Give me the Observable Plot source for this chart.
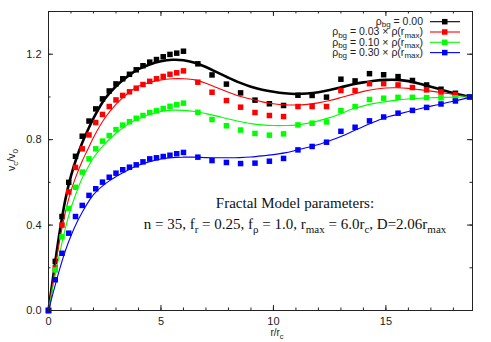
<!DOCTYPE html>
<html><head><meta charset="utf-8">
<script src="https://cdn.jsdelivr.net/npm/d3@7"></script>
<script src="https://cdn.jsdelivr.net/npm/@observablehq/plot@0.6"></script>
<style>body{margin:0;background:#fff}</style>
</head><body><div id="chart"></div>
<script>
// sampled radii of the data points (r / r_c)
const r = [0,0.3,0.6,0.9,1.2,1.5,1.8,2.1,2.4,2.7,3.0,3.3,3.6,3.9,4.2,4.5,4.8,5.1,5.4,5.7,6.0,
  6.64,7.27,7.91,8.54,9.18,9.82,10.45,11.09,11.72,12.36,13.0,13.63,14.27,14.9,15.54,16.18,16.81,17.45,18.09,18.72];
const blackPts = [0,0.23,0.44,0.60,0.722,0.816,0.887,0.944,0.991,1.028,1.061,1.085,1.106,1.127,1.146,1.163,1.175,1.188,1.199,1.205,1.214,
  1.155,1.103,1.06,1.019,0.985,0.968,0.960,1.008,1.007,0.999,1.083,1.075,1.109,1.104,1.095,1.077,1.056,1.036,1.017,1.0];
const redPts = [0,0.20,0.40,0.555,0.67,0.757,0.822,0.88,0.918,0.955,0.986,1.007,1.024,1.041,1.058,1.073,1.085,1.096,1.106,1.113,1.122,
  1.069,1.022,0.983,0.952,0.927,0.913,0.908,0.955,0.955,0.955,1.03,1.03,1.062,1.062,1.056,1.044,1.033,1.023,1.01,1.0];
const greenPts = [0,0.19,0.345,0.478,0.577,0.648,0.71,0.757,0.793,0.819,0.847,0.868,0.884,0.9,0.913,0.927,0.935,0.946,0.956,0.964,0.971,
  0.928,0.894,0.865,0.845,0.829,0.821,0.827,0.869,0.877,0.883,0.936,0.955,0.988,0.994,0.998,0.998,0.997,0.996,0.996,1.0];
const bluePts = [0,0.144,0.268,0.362,0.44,0.492,0.539,0.57,0.601,0.624,0.643,0.659,0.671,0.682,0.696,0.71,0.715,0.721,0.727,0.734,0.74,
  0.718,0.702,0.693,0.688,0.69,0.699,0.712,0.752,0.768,0.788,0.839,0.858,0.888,0.906,0.924,0.937,0.951,0.967,0.981,1.0];

// model curves, read at these radii
const rModel = [0,0.25,0.5,0.75,1,1.25,1.5,1.75,2,2.5,3,3.5,4,4.5,5,5.5,6,6.5,7,7.5,8,8.5,9,9.5,10,10.5,11,11.5,12,12.5,13,13.5,14,14.5,15,15.5,16,16.5,17,17.5,18,18.5,18.72];
const blackModel = [0,0.19,0.37,0.52,0.63,0.715,0.785,0.845,0.90,0.99,1.05,1.095,1.13,1.152,1.167,1.174,1.172,1.16,1.14,1.115,1.09,1.067,1.048,1.034,1.024,1.017,1.014,1.016,1.022,1.032,1.045,1.058,1.068,1.076,1.08,1.08,1.074,1.062,1.048,1.033,1.018,1.006,1.0];
const redModel = [0,0.17,0.33,0.46,0.56,0.635,0.70,0.755,0.81,0.90,0.965,1.015,1.05,1.068,1.08,1.085,1.085,1.08,1.064,1.043,1.022,1.003,0.99,0.977,0.968,0.963,0.962,0.965,0.972,0.983,0.997,1.012,1.026,1.036,1.042,1.043,1.04,1.034,1.027,1.02,1.012,1.004,1.0];
const greenModel = [0,0.14,0.27,0.385,0.48,0.555,0.62,0.67,0.715,0.78,0.83,0.87,0.898,0.918,0.932,0.938,0.937,0.932,0.922,0.91,0.897,0.885,0.875,0.869,0.866,0.866,0.868,0.876,0.888,0.903,0.922,0.943,0.958,0.97,0.978,0.985,0.99,0.994,0.996,0.998,0.999,1.0,1.0];
const blueModel = [0,0.10,0.195,0.28,0.35,0.41,0.46,0.505,0.543,0.592,0.627,0.656,0.68,0.697,0.709,0.716,0.718,0.718,0.716,0.715,0.715,0.716,0.719,0.724,0.73,0.738,0.75,0.763,0.777,0.795,0.815,0.838,0.862,0.884,0.904,0.918,0.932,0.945,0.957,0.968,0.98,0.992,1.0];

const bgValues = ["0.00", "0.03", "0.10", "0.30"];
const colors = ["#000000", "#ff0000", "#00ff00", "#0000ff"];
const xTicks = [0, 5, 10, 15];
const yTicks = [0.0, 0.4, 0.8, 1.2];
const xMinor = d3.range(0, 19);
const yMinor = d3.range(0, 8).map(i => i * 0.2);

const pts = [blackPts, redPts, greenPts, bluePts];
const models = [blackModel, redModel, greenModel, blueModel];

const W = 491, H = 342, mL = 48, mR = 19, mT = 11, mB = 32;
const fw = W - mL - mR, fh = H - mT - mB;
const MAJ = 5, MIN = 2.5;

const marks = [];
pts.forEach((p, k) => {
  marks.push(Plot.line(rModel.map((x, i) => ({x, y: models[k][i]})), {
    x: "x", y: "y", stroke: colors[k], strokeWidth: k === 0 ? 2.6 : 1.1, curve: "catmull-rom"
  }));
  marks.push(Plot.dot(r.map((x, i) => ({x, y: p[i]})), {
    x: "x", y: "y", symbol: "square", r: 3.1, fill: colors[k], stroke: "none"
  }));
});
// inward ticks on all four sides
const tickStyle = {stroke: "#222", strokeWidth: 1};
marks.push(
  Plot.tickX(xMinor, {x: d => d, insetTop: fh - MIN, ...tickStyle}),
  Plot.tickX(xMinor, {x: d => d, insetBottom: fh - MIN, ...tickStyle}),
  Plot.tickX(xTicks, {x: d => d, insetTop: fh - MAJ, ...tickStyle}),
  Plot.tickX(xTicks, {x: d => d, insetBottom: fh - MAJ, ...tickStyle}),
  Plot.tickY(yMinor, {y: d => d, insetRight: fw - MIN, ...tickStyle}),
  Plot.tickY(yMinor, {y: d => d, insetLeft: fw - MIN, ...tickStyle}),
  Plot.tickY(yTicks, {y: d => d, insetRight: fw - MAJ, ...tickStyle}),
  Plot.tickY(yTicks, {y: d => d, insetLeft: fw - MAJ, ...tickStyle}),
  Plot.axisX(xTicks, {tickSize: 0, tickPadding: 7, tickFormat: d => String(d), fill: "#222", label: null}),
  Plot.axisY(yTicks, {tickSize: 0, tickPadding: 7, tickFormat: d3.format(".1f"), fill: "#222", label: null}),
  Plot.frame({stroke: "#222", strokeWidth: 1})
);

const plot = Plot.plot({
  width: W, height: H,
  marginLeft: mL, marginRight: mR, marginTop: mT, marginBottom: mB,
  x: {domain: [0, 18.85], axis: null, label: null},
  y: {domain: [0, 1.4], axis: null, label: null},
  style: {fontFamily: "'Liberation Sans', Arial, sans-serif", fontSize: "11px", background: "#fff"},
  marks
});
document.getElementById("chart").appendChild(plot);

const svg = d3.select(plot);
function rich(parent, x, y, parts, opts) {
  const t = parent.append("text").attr("x", x).attr("y", y)
    .attr("font-family", opts.family).attr("font-size", opts.size)
    .attr("text-anchor", opts.anchor || "start").attr("fill", opts.fill || "#222");
  if (opts.rotate) t.attr("transform", `rotate(${opts.rotate},${x},${y})`);
  let shifted = false;
  parts.forEach(([s, sub]) => {
    const ts = t.append("tspan").text(s);
    if (sub && !shifted) { ts.attr("dy", opts.subDy).attr("font-size", opts.subSize); shifted = true; }
    else if (sub) { ts.attr("font-size", opts.subSize); }
    else if (shifted) { ts.attr("dy", -opts.subDy); shifted = false; }
  });
  return t;
}
const sans = "'Liberation Sans', Arial, sans-serif";
const serif = "'Liberation Serif', 'Times New Roman', serif";

// axis labels
rich(svg, 15, 160, [["v"], ["c", 1], ["/v"], ["0", 1]],
  {family: sans, size: 10.5, subSize: 8, subDy: 2.5, anchor: "middle", rotate: -90});
rich(svg, 277, 336, [["r/r"], ["c", 1]],
  {family: sans, size: 10, subSize: 7.5, subDy: 2.5, anchor: "middle"});

// legend
const xr = mL + fw;
const legTexts = [
  [["ρ"], ["bg", 1], [" = " + bgValues[0]]],
  [["ρ"], ["bg", 1], [" = " + bgValues[1] + " × ρ(r"], ["max", 1], [")"]],
  [["ρ"], ["bg", 1], [" = " + bgValues[2] + " × ρ(r"], ["max", 1], [")"]],
  [["ρ"], ["bg", 1], [" = " + bgValues[3] + " × ρ(r"], ["max", 1], [")"]]
];
legTexts.forEach((parts, i) => {
  const cy = mT + 10.7 + i * 10.3;
  rich(svg, xr - 49, cy + 3.3, parts, {family: sans, size: 10.5, subSize: 8, subDy: 2.2, anchor: "end"});
  svg.append("line").attr("x1", xr - 42).attr("x2", xr - 12).attr("y1", cy).attr("y2", cy)
    .attr("stroke", colors[i]).attr("stroke-width", 1.1);
  svg.append("rect").attr("x", xr - 30).attr("y", cy - 2.75).attr("width", 5.5).attr("height", 5.5)
    .attr("fill", colors[i]);
});

// annotation
const cx = 295;
rich(svg, cx, 208, [["Fractal Model parameters:"]], {family: serif, size: 15, subSize: 11, subDy: 4, anchor: "middle", fill: "#111"});
rich(svg, cx, 229, [["n = 35, f"], ["r", 1], [" = 0.25, f"], ["ρ", 1], [" = 1.0, r"], ["max", 1], [" = 6.0r"], ["c", 1], [", D=2.06r"], ["max", 1]],
  {family: serif, size: 15, subSize: 11, subDy: 4, anchor: "middle", fill: "#111"});
</script></body></html>
